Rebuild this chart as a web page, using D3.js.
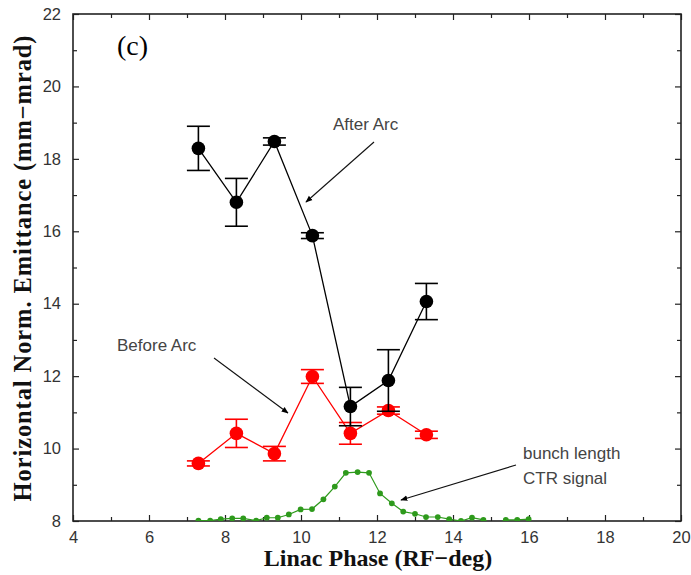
<!DOCTYPE html>
<html>
<head>
<meta charset="utf-8">
<script src="https://cdn.jsdelivr.net/npm/d3@7"></script>
<style>
  body { margin: 0; background: #fff; }
  svg { display: block; }
</style>
</head>
<body>
<svg id="chart" width="691" height="575"></svg>
<script>
// ---- data ----
const phases = [7.3, 8.3, 9.3, 10.3, 11.3, 12.3, 13.3];
const afterArc = [18.29, 16.80, 18.48, 15.88, 11.16, 11.88, 14.06];
const afterArcErr = [0.61, 0.66, 0.10, 0.08, 0.53, 0.85, 0.50];
const beforeArc = [9.59, 10.42, 9.86, 11.99, 10.42, 11.05, 10.38];
const beforeArcErr = [0.07, 0.39, 0.20, 0.19, 0.30, 0.10, 0.10];
const ctrPhase = [7.30, 7.61, 7.89, 8.19, 8.48, 8.82, 9.10, 9.39, 9.68, 9.99, 10.29, 10.59, 10.89, 11.18, 11.49, 11.79, 12.08, 12.39, 12.69, 13.00, 13.29, 13.60, 13.90, 14.21, 14.50, 14.80, 15.10, 15.39, 15.69, 15.99];
const ctrSignal = [8.01, 8.01, 8.05, 8.07, 8.07, 8.01, 8.09, 8.09, 8.18, 8.32, 8.33, 8.60, 8.95, 9.33, 9.35, 9.33, 8.76, 8.49, 8.26, 8.20, 8.11, 8.11, 8.05, 8.00, 8.09, 8.03, 7.90, 8.03, 8.03, 8.05];
const xTicks = [4, 6, 8, 10, 12, 14, 16, 18, 20];
const yTicks = [8, 10, 12, 14, 16, 18, 20, 22];

// ---- layout ----
const svg = d3.select("#chart");
const L = 73, R = 681, T = 14, B = 521;
const x = d3.scaleLinear().domain([4, 20]).range([L, R]);
const y = d3.scaleLinear().domain([8, 22]).range([B, T]);

const defs = svg.append("defs");
defs.append("clipPath").attr("id", "plotclip").append("rect")
  .attr("x", L).attr("y", T).attr("width", R - L).attr("height", B - T);
defs.append("marker").attr("id", "arrow").attr("viewBox", "0 0 10 10")
  .attr("refX", 9).attr("refY", 5).attr("markerWidth", 7).attr("markerHeight", 7)
  .attr("markerUnits", "userSpaceOnUse").attr("orient", "auto")
  .append("path").attr("d", "M0,1 L10,5 L0,9 Z").attr("fill", "#000");

// ---- axes (ticks inward on all four sides) ----
const minor = d3.range(4, 21, 1).filter(v => v % 2 !== 0);
const minorY = d3.range(8, 23, 1).filter(v => v % 2 !== 0);

function styleAxis(g) {
  g.select(".domain").remove();
  g.selectAll("line").attr("stroke", "#222").attr("stroke-width", 1.2);
}
const fontTicks = "'Liberation Sans', Arial, sans-serif";

svg.append("g").attr("transform", `translate(0,${B})`)
  .call(d3.axisBottom(x).tickValues(xTicks).tickSize(-6).tickPadding(10).tickFormat(d3.format("d")))
  .call(styleAxis)
  .call(g => g.selectAll("text").attr("font-family", fontTicks).attr("font-size", 16.5).attr("fill", "#333"));
svg.append("g").attr("transform", `translate(0,${B})`)
  .call(d3.axisBottom(x).tickValues(minor).tickSize(-4).tickFormat(""))
  .call(styleAxis);
svg.append("g").attr("transform", `translate(0,${T})`)
  .call(d3.axisTop(x).tickValues(xTicks).tickSize(-6).tickFormat(""))
  .call(styleAxis);
svg.append("g").attr("transform", `translate(0,${T})`)
  .call(d3.axisTop(x).tickValues(minor).tickSize(-4).tickFormat(""))
  .call(styleAxis);

svg.append("g").attr("transform", `translate(${L},0)`)
  .call(d3.axisLeft(y).tickValues(yTicks).tickSize(-6).tickPadding(12).tickFormat(d3.format("d")))
  .call(styleAxis)
  .call(g => g.selectAll("text").attr("font-family", fontTicks).attr("font-size", 16.5).attr("fill", "#333"));
svg.append("g").attr("transform", `translate(${L},0)`)
  .call(d3.axisLeft(y).tickValues(minorY).tickSize(-4).tickFormat(""))
  .call(styleAxis);
svg.append("g").attr("transform", `translate(${R},0)`)
  .call(d3.axisRight(y).tickValues(yTicks).tickSize(-6).tickFormat(""))
  .call(styleAxis);
svg.append("g").attr("transform", `translate(${R},0)`)
  .call(d3.axisRight(y).tickValues(minorY).tickSize(-4).tickFormat(""))
  .call(styleAxis);

svg.append("rect").attr("x", L).attr("y", T).attr("width", R - L).attr("height", B - T)
  .attr("fill", "none").attr("stroke", "#222").attr("stroke-width", 1.6);

// ---- axis titles ----
const fontSerif = "'Liberation Serif', 'Times New Roman', serif";
svg.append("text").attr("x", 378).attr("y", 566)
  .attr("text-anchor", "middle").attr("font-family", fontSerif).attr("font-weight", "bold")
  .attr("font-size", 24).attr("fill", "#111").text("Linac Phase (RF\u2212deg)");
svg.append("text").attr("transform", `translate(31,268) rotate(-90)`)
  .attr("text-anchor", "middle").attr("font-family", fontSerif).attr("font-weight", "bold")
  .attr("font-size", 24.5).attr("letter-spacing", 0.9).attr("fill", "#111")
  .text("Horizontal Norm. Emittance (mm\u2212mrad)");

// ---- series ----
const plot = svg.append("g").attr("clip-path", "url(#plotclip)");
const line = d3.line().x(d => x(d[0])).y(d => y(d[1]));

// green CTR signal
const ctr = ctrPhase.map((p, i) => [p, ctrSignal[i]]);
plot.append("path").datum(ctr).attr("d", line).attr("fill", "none")
  .attr("stroke", "#2e9a1c").attr("stroke-width", 1.2);
plot.selectAll(".ctr").data(ctr).join("path").attr("class", "ctr")
  .attr("transform", d => `translate(${x(d[0])},${y(d[1])})`)
  .attr("d", d3.symbol(d3.symbolCircle, 26)).attr("fill", "#2e9a1c");

function series(vals, errs, color) {
  const pts = phases.map((p, i) => ({ x: p, y: vals[i], e: errs[i] }));
  const g = plot.append("g");
  g.append("path").datum(pts.map(d => [d.x, d.y])).attr("d", line)
    .attr("fill", "none").attr("stroke", color).attr("stroke-width", 1.3);
  const eb = g.selectAll(".eb").data(pts).join("g");
  eb.append("line").attr("x1", d => x(d.x)).attr("x2", d => x(d.x))
    .attr("y1", d => y(d.y + d.e)).attr("y2", d => y(d.y - d.e))
    .attr("stroke", color).attr("stroke-width", 1.6);
  [1, -1].forEach(s => {
    eb.append("line").attr("x1", d => x(d.x) - 11.5).attr("x2", d => x(d.x) + 11.5)
      .attr("y1", d => y(d.y + s * d.e)).attr("y2", d => y(d.y + s * d.e))
      .attr("stroke", color).attr("stroke-width", 1.6);
  });
  g.selectAll(".pt").data(pts).join("circle")
    .attr("cx", d => x(d.x)).attr("cy", d => y(d.y)).attr("r", 6.8).attr("fill", color);
}
series(beforeArc, beforeArcErr, "#ff0000");
series(afterArc, afterArcErr, "#000000");

// ---- annotations ----
const fontAnn = "'Liberation Sans', Arial, sans-serif";
svg.append("text").attr("x", 117).attr("y", 55).attr("font-family", fontSerif)
  .attr("font-size", 28).attr("fill", "#000").text("(c)");
function note(tx, ty, lines) {
  lines.forEach((t, i) => svg.append("text").attr("x", tx).attr("y", ty + i * 25)
    .attr("font-family", fontAnn).attr("font-size", 17).attr("fill", "#444").text(t));
}
note(333, 130, ["After Arc"]);
note(117, 351, ["Before Arc"]);
note(523, 459, ["bunch length", "CTR signal"]);
function arrow(x1, y1, x2, y2) {
  svg.append("line").attr("x1", x1).attr("y1", y1).attr("x2", x2).attr("y2", y2)
    .attr("stroke", "#111").attr("stroke-width", 1.1).attr("marker-end", "url(#arrow)");
}
arrow(374, 142, 306, 202);
arrow(214, 358, 288, 413);
arrow(516, 465, 401, 500);
</script>
</body>
</html>
